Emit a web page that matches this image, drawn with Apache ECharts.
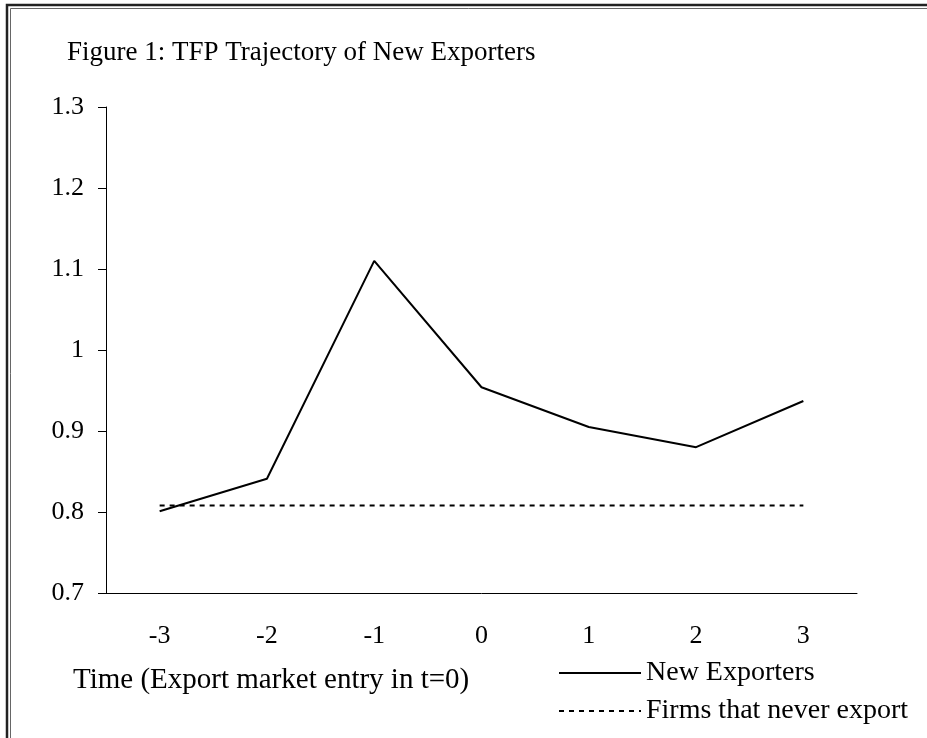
<!DOCTYPE html>
<html>
<head>
<meta charset="utf-8">
<script src="https://cdn.jsdelivr.net/npm/echarts@6/dist/echarts.min.js"></script>
<style>
  html, body { margin: 0; padding: 0; background: #fff; }
  #chart { width: 927px; height: 738px; }
</style>
</head>
<body>
<div id="chart"></div>
<script>
// TFP 折线图
var periods = ['-3', '-2', '-1', '0', '1', '2', '3'];
var newExporters = [0.801, 0.841, 1.110, 0.954, 0.905, 0.880, 0.937];
var neverExport = [0.808, 0.808, 0.808, 0.808, 0.808, 0.808, 0.808];
var seriesNames = ['New Exporters', 'Firms that never export'];

var font = 'Liberation Serif';

var chart = echarts.init(document.getElementById('chart'));

var option = {
    backgroundColor: '#fff',
    animation: false,
    textStyle: {
        fontFamily: font,
        color: '#000'
    },
    title: [{
        text: 'Figure 1: TFP Trajectory of New Exporters',
        left: 62,
        top: 34,
        textStyle: {
            fontFamily: font,
            fontSize: 27,
            fontWeight: 'normal',
            color: '#000'
        }
    }, {
        text: 'Time (Export market entry in t=0)',
        left: 68,
        top: 661,
        textStyle: {
            fontFamily: font,
            fontSize: 29,
            fontWeight: 'normal',
            color: '#000'
        }
    }],
    legend: {
        orient: 'vertical',
        left: 553,
        top: 654,
        itemWidth: 82,
        itemHeight: 14,
        itemGap: 10,
        data: seriesNames,
        itemStyle: { opacity: 0 },
        textStyle: {
            fontFamily: font,
            fontSize: 28,
            color: '#000'
        }
    },
    grid: {
        left: 106,
        right: 70,
        top: 107,
        bottom: 145
    },
    xAxis: {
        type: 'category',
        data: periods,
        boundaryGap: true,
        axisLine: {
            lineStyle: { color: '#000', width: 1 }
        },
        axisTick: {
            length: 8,
            lineStyle: { color: '#000' }
        },
        axisLabel: {
            margin: 30,
            fontSize: 26,
            color: '#000',
            fontFamily: font
        },
        splitLine: { show: false }
    },
    yAxis: {
        type: 'value',
        min: 0.7,
        max: 1.3,
        interval: 0.1,
        axisLine: {
            show: true,
            lineStyle: { color: '#000', width: 1 }
        },
        axisTick: {
            show: true,
            length: 8,
            lineStyle: { color: '#000' }
        },
        axisLabel: {
            margin: 22,
            fontSize: 26,
            color: '#000',
            fontFamily: font
        },
        splitLine: { show: false }
    },
    series: [{
        name: seriesNames[0],
        type: 'line',
        data: newExporters,
        symbol: 'none',
        lineStyle: { color: '#000', width: 2 },
        itemStyle: { color: '#000' }
    }, {
        name: seriesNames[1],
        type: 'line',
        data: neverExport,
        symbol: 'none',
        lineStyle: { color: '#000', width: 2, type: [5, 5] },
        itemStyle: { color: '#000' }
    }],
    // 外框 (左上双线)
    graphic: [{
        type: 'polyline',
        shape: { points: [[7, 738], [7, 5], [927, 5]] },
        style: { stroke: '#222', lineWidth: 2.5, fill: null },
        silent: true
    }, {
        type: 'polyline',
        shape: { points: [[10.5, 738], [10.5, 8.5], [927, 8.5]] },
        style: { stroke: '#666', lineWidth: 1, fill: null },
        silent: true
    }]
};

chart.setOption(option);
</script>
</body>
</html>
